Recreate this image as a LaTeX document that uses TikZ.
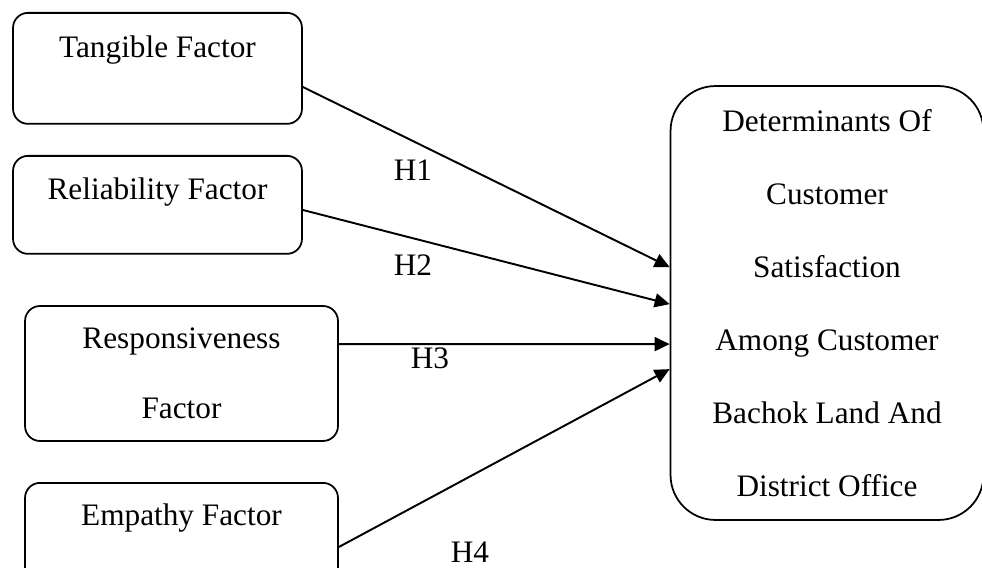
\documentclass[tikz,border=0pt]{standalone}
\usepackage{fontspec}
\setmainfont{Liberation Serif}
\usetikzlibrary{arrows.meta}

\begin{document}
\begin{tikzpicture}[x=0.02cm,y=-0.02cm,
    font=\fontsize{17.8}{41.5}\selectfont,
    fbox/.style={draw,line width=1pt,rounded corners=0.3cm,inner sep=0pt,minimum width=5.78cm},
    topbox/.style={fbox,anchor=north},
    hlabel/.style={inner sep=0pt},
    >={Triangle[length=0.3cm,width=0.28cm]},
    every edge/.style={draw,line width=1.1pt}]
    \useasboundingbox (0,0) rectangle (982,567);
    \clip (0,0) rectangle (982,567);

    \node[topbox,text height=0.9cm,text depth=1.32cm] (tang) at (157.5,12) {Tangible Factor};
    \node[topbox,text height=0.88cm,text depth=1.08cm] (rel) at (157.5,155) {Reliability Factor};
    \node[fbox,minimum width=6.26cm,minimum height=2.7cm,align=center,
          font=\fontsize{17.8}{40}\selectfont] (resp) at (181.5,373.5) {Responsiveness\\Factor};
    \node[topbox,minimum width=6.26cm,text height=0.86cm,text depth=1.5cm] (emp) at (181.5,482) {Empathy Factor};
    \node[fbox,rounded corners=0.9cm,minimum width=6.26cm,minimum height=8.68cm,align=center] (dcs) at (827,303)
        {Determinants Of\\Customer\\Satisfaction\\Among Customer\\Bachok Land And\\District Office};

    \node[hlabel] (h1) at (413,170) {H1};
    \node[hlabel] (h2) at (413,265) {H2};
    \node[hlabel] (h3) at (430,358) {H3};
    \node[hlabel] (h4) at (470,552) {H4};

    \path[->] ([yshift=-1.5cm]tang.north east) edge ([yshift=-3.64cm]dcs.north west);
    \path[->] ([yshift=-1.1cm]rel.north east) edge ([yshift=-4.38cm]dcs.north west);
    \path[->] ([yshift=-0.78cm]resp.north east) edge ([yshift=-5.18cm]dcs.north west);
    \path[->] ([yshift=-1.3cm]emp.north east) edge ([yshift=-5.68cm]dcs.north west);
\end{tikzpicture}
\end{document}
